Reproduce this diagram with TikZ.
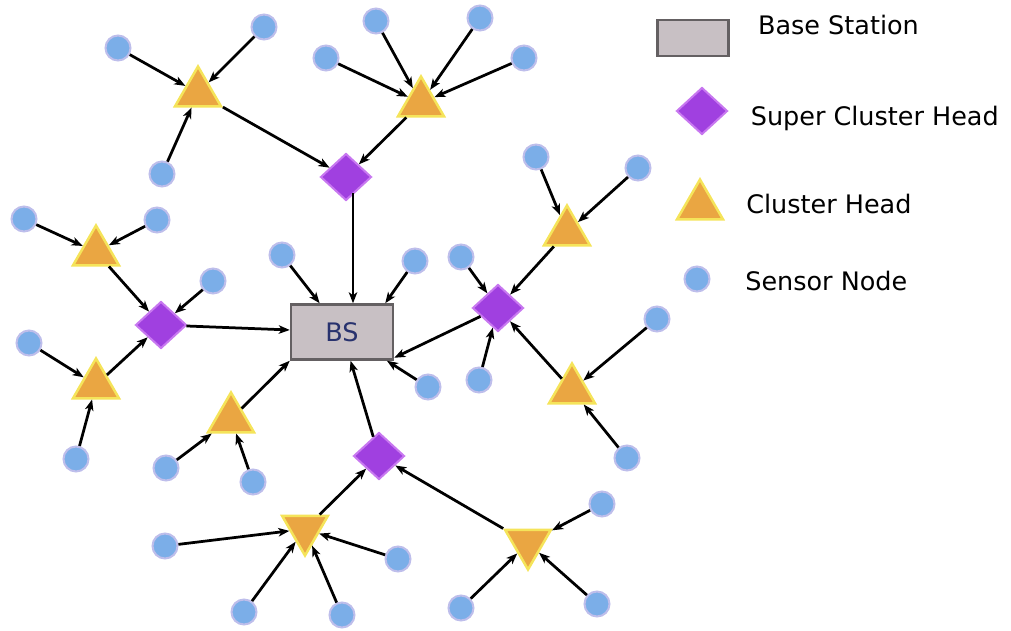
\documentclass[tikz,border=0pt]{standalone}
\usepackage{fontspec}
\setmainfont{DejaVu Sans}
\usetikzlibrary{positioning,shapes.geometric,arrows.meta}
\definecolor{sensorblue}{RGB}{123,174,232}
\definecolor{sensorrim}{RGB}{190,190,235}
\definecolor{chorange}{RGB}{234,166,66}
\definecolor{chrim}{RGB}{245,228,90}
\definecolor{schpurple}{RGB}{160,64,224}
\definecolor{schrim}{RGB}{200,120,240}
\definecolor{bsgrey}{RGB}{200,192,196}
\definecolor{bsrim}{RGB}{100,96,98}
\definecolor{bstext}{RGB}{40,50,110}

\begin{document}
\begin{tikzpicture}[on grid,
sensor/.style={circle,fill=sensorblue,draw=sensorrim,line width=0.04cm,minimum size=0.5cm,inner sep=0pt},
chead/.style={regular polygon,regular polygon sides=3,fill=chorange,draw=chrim,line width=0.05cm,minimum size=1.06cm,inner sep=0pt},
cheaddown/.style={chead,shape border rotate=180},
superhead/.style={diamond,fill=schpurple,draw=schrim,line width=0.04cm,minimum width=1.02cm,minimum height=0.94cm,inner sep=0pt},
basest/.style={rectangle,fill=bsgrey,draw=bsrim,line width=0.05cm,inner sep=0pt},
link/.style={-{Stealth[length=2.2mm,width=1.7mm,inset=0.6mm]},line width=0.055cm},
legtext/.style={inner sep=0pt,font=\fontsize{14.5}{17}\selectfont}]
\useasboundingbox (0,0) rectangle (20.22,12.6);
\node[basest,minimum width=2.04cm,minimum height=1.1cm,text=bstext,font=\fontsize{14.5}{17}\selectfont](bs) at (6.84,5.96) {BS};
\node[superhead,above right=3.1cm and 0.08cm of bs](sch1) {};
\node[superhead,above left=0.14cm and 3.62cm of bs](sch2) {};
\node[superhead,above right=0.48cm and 3.12cm of bs](sch3) {};
\node[superhead,below right=2.48cm and 0.74cm of bs](sch4) {};
\node[chead,above left=1.68cm and 2.96cm of sch1](ch1) {};
\node[chead,above right=1.48cm and 1.5cm of sch1](ch2) {};
\node[chead,above left=1.46cm and 1.3cm of sch2](ch3) {};
\node[chead,below left=1.2cm and 1.3cm of sch2](ch4) {};
\node[chead,below left=1.74cm and 2.22cm of bs](ch5) {};
\node[chead,above right=1.52cm and 1.38cm of sch3](ch6) {};
\node[chead,below right=1.64cm and 1.48cm of sch3](ch7) {};
\node[cheaddown,below left=1.46cm and 1.48cm of sch4](ch8) {};
\node[cheaddown,below right=1.74cm and 2.98cm of sch4](ch9) {};
\node[sensor,above left=0.9cm and 1.6cm of ch1](s1a) {};
\node[sensor,above right=1.32cm and 1.32cm of ch1](s1b) {};
\node[sensor,below left=1.62cm and 0.72cm of ch1](s1c) {};
\node[sensor,above left=0.9cm and 1.9cm of ch2](s2a) {};
\node[sensor,above left=1.64cm and 0.9cm of ch2](s2b) {};
\node[sensor,above right=1.7cm and 1.18cm of ch2](s2c) {};
\node[sensor,above right=0.9cm and 2.06cm of ch2](s2d) {};
\node[sensor,above left=0.66cm and 1.44cm of ch3](s3a) {};
\node[sensor,above right=0.64cm and 1.22cm of ch3](s3b) {};
\node[sensor,above right=0.88cm and 1.04cm of sch2](s0a) {};
\node[sensor,above left=0.84cm and 1.34cm of ch4](s4a) {};
\node[sensor,below left=1.48cm and 0.4cm of ch4](s4b) {};
\node[sensor,above left=1.54cm and 1.2cm of bs](sba) {};
\node[sensor,above right=1.42cm and 1.46cm of bs](sbb) {};
\node[sensor,below right=1.1cm and 1.72cm of bs](sbc) {};
\node[sensor,below left=0.98cm and 1.3cm of ch5](s5a) {};
\node[sensor,below right=1.26cm and 0.44cm of ch5](s5b) {};
\node[sensor,above left=1.02cm and 0.74cm of sch3](sca) {};
\node[sensor,below left=1.44cm and 0.38cm of sch3](scb) {};
\node[sensor,above left=1.5cm and 0.62cm of ch6](s6a) {};
\node[sensor,above right=1.28cm and 1.42cm of ch6](s6b) {};
\node[sensor,above right=1.42cm and 1.7cm of ch7](s7a) {};
\node[sensor,below right=1.36cm and 1.1cm of ch7](s7b) {};
\node[sensor,below left=0.34cm and 2.8cm of ch8](s8a) {};
\node[sensor,below right=0.6cm and 1.86cm of ch8](s8b) {};
\node[sensor,below left=1.66cm and 1.22cm of ch8](s8c) {};
\node[sensor,below right=1.72cm and 0.74cm of ch8](s8d) {};
\node[sensor,above right=0.78cm and 1.48cm of ch9](s9a) {};
\node[sensor,below left=1.3cm and 1.34cm of ch9](s9b) {};
\node[sensor,below right=1.22cm and 1.38cm of ch9](s9c) {};
\coordinate[below right=0.32cm and 0.14cm of sch1](sch1out);
\draw[link](s1a)--(ch1);
\draw[link](s1b)--(ch1);
\draw[link](s1c)--(ch1);
\draw[link](s2a)--(ch2);
\draw[link](s2b)--(ch2);
\draw[link](s2c)--(ch2);
\draw[link](s2d)--(ch2);
\draw[link](ch1)--(sch1);
\draw[link](ch2)--(sch1);
\draw[link](sch1out)--(sch1out |- bs.north);
\draw[link](s3a)--(ch3);
\draw[link](s3b)--(ch3);
\draw[link](s4a)--(ch4);
\draw[link](s4b)--(ch4);
\draw[link](ch3)--(sch2);
\draw[link](ch4)--(sch2);
\draw[link](s0a)--(sch2);
\draw[link](sch2)--(bs);
\draw[link](sba)--(bs);
\draw[link](sbb)--([xshift=-0.18cm]bs.north east);
\draw[link](sbc)--(bs);
\draw[link](s5a)--(ch5);
\draw[link](s5b)--(ch5);
\draw[link](ch5)--(bs.south west);
\draw[link](s6a)--(ch6);
\draw[link](s6b)--(ch6);
\draw[link](s7a)--(ch7);
\draw[link](s7b)--(ch7);
\draw[link](ch6)--(sch3);
\draw[link](ch7)--(sch3);
\draw[link](sca)--(sch3);
\draw[link](scb)--(sch3);
\draw[link](sch3)--([yshift=0.06cm]bs.south east);
\draw[link](s8a)--(ch8);
\draw[link](s8b)--(ch8);
\draw[link](s8c)--(ch8);
\draw[link](s8d)--(ch8);
\draw[link](s9a)--(ch9);
\draw[link](s9b)--(ch9);
\draw[link](s9c)--(ch9);
\draw[link](ch8)--(sch4);
\draw[link](ch9)--(sch4);
\draw[link](sch4)--(bs);
\node[basest,minimum width=1.42cm,minimum height=0.72cm,above right=5.88cm and 7.02cm of bs](lbs) {};
\node[superhead,below right=1.46cm and 0.18cm of lbs](lsch) {};
\node[chead,below right=3.36cm and 0.14cm of lbs](lch) {};
\node[sensor,below right=4.82cm and 0.08cm of lbs](lsn) {};
\node[legtext,above right=0.08cm and 0.56cm of lbs.east,anchor=base west](tbs) {Base Station};
\node[legtext,below right=0.28cm and 0.44cm of lsch.east,anchor=base west](tsch) {Super Cluster Head};
\node[legtext,below right=0.14cm and 0.92cm of lch,anchor=base west](tch) {Cluster Head};
\node[legtext,below right=0.22cm and 0.96cm of lsn,anchor=base west](tsn) {Sensor Node};
\end{tikzpicture}
\end{document}
